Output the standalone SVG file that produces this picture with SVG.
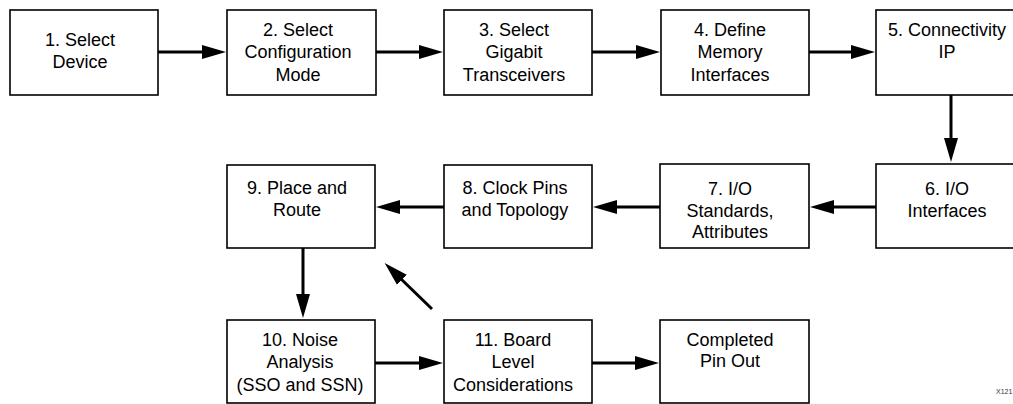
<svg xmlns="http://www.w3.org/2000/svg" width="1013" height="404" viewBox="0 0 1013 404">
<style>
.box{fill:#fff;stroke:#000;stroke-width:1.6}
.t{font-family:"Liberation Sans",Arial,Helvetica,sans-serif;font-size:18px;fill:#000;text-anchor:middle}
.c{fill:none;stroke:#000;stroke-width:3}
.lbl{font-family:"Liberation Sans",Arial,sans-serif;font-size:7px;fill:#333}
</style>
<defs>
<marker id="ah" markerUnits="userSpaceOnUse" markerWidth="25" markerHeight="16" refX="4" refY="8" orient="auto">
<path d="M0,1 L24,8 L0,15 z" fill="#000"/>
</marker>
</defs>
<rect width="1013" height="404" fill="#fff"/>
<g id="connectors">
<line class="c" x1="158" y1="52" x2="206" y2="52" marker-end="url(#ah)"/>
<line class="c" x1="376" y1="52" x2="423" y2="52" marker-end="url(#ah)"/>
<line class="c" x1="592" y1="52" x2="640" y2="52" marker-end="url(#ah)"/>
<line class="c" x1="809" y1="52" x2="855" y2="52" marker-end="url(#ah)"/>
<line class="c" x1="951" y1="95" x2="951" y2="142" marker-end="url(#ah)"/>
<line class="c" x1="876" y1="207" x2="830" y2="207" marker-end="url(#ah)"/>
<line class="c" x1="660" y1="207" x2="613" y2="207" marker-end="url(#ah)"/>
<line class="c" x1="444" y1="207" x2="396" y2="207" marker-end="url(#ah)"/>
<line class="c" x1="303" y1="248" x2="303" y2="298" marker-end="url(#ah)"/>
<line class="c" x1="375" y1="363" x2="423" y2="363" marker-end="url(#ah)"/>
<line class="c" x1="592" y1="363" x2="639" y2="363" marker-end="url(#ah)"/>
<line class="c" x1="432" y1="309" x2="399" y2="277" marker-end="url(#ah)"/>
</g>
<g id="n1"><rect class="box" x="10" y="10" width="148" height="85"/>
<text class="t" x="80" y="46">1. Select</text><text class="t" x="80" y="68">Device</text></g>
<g id="n2"><rect class="box" x="227" y="10" width="149" height="85"/>
<text class="t" x="298" y="36">2. Select</text><text class="t" x="298" y="58">Configuration</text><text class="t" x="298" y="81">Mode</text></g>
<g id="n3"><rect class="box" x="444" y="10" width="148" height="85"/>
<text class="t" x="514" y="36">3. Select</text><text class="t" x="514" y="58">Gigabit</text><text class="t" x="514" y="81">Transceivers</text></g>
<g id="n4"><rect class="box" x="661" y="10" width="148" height="85"/>
<text class="t" x="730" y="36">4. Define</text><text class="t" x="730" y="58">Memory</text><text class="t" x="730" y="81">Interfaces</text></g>
<g id="n5"><rect class="box" x="876" y="10" width="148" height="85"/>
<text class="t" x="947" y="36">5. Connectivity</text><text class="t" x="947" y="58">IP</text></g>
<g id="n6"><rect class="box" x="876" y="164" width="148" height="84"/>
<text class="t" x="947" y="195">6. I/O</text><text class="t" x="947" y="217">Interfaces</text></g>
<g id="n7"><rect class="box" x="660" y="164" width="149" height="84"/>
<text class="t" x="730" y="195">7. I/O</text><text class="t" x="730" y="217">Standards,</text><text class="t" x="730" y="238">Attributes</text></g>
<g id="n8"><rect class="box" x="444" y="165" width="148" height="83"/>
<text class="t" x="515" y="194">8. Clock Pins</text><text class="t" x="515" y="216">and Topology</text></g>
<g id="n9"><rect class="box" x="227" y="165" width="148" height="83"/>
<text class="t" x="297" y="194">9. Place and</text><text class="t" x="297" y="216">Route</text></g>
<g id="n10"><rect class="box" x="227" y="320" width="148" height="83"/>
<text class="t" x="300" y="346">10. Noise</text><text class="t" x="300" y="368">Analysis</text><text class="t" x="300" y="391">(SSO and SSN)</text></g>
<g id="n11"><rect class="box" x="444" y="320" width="148" height="83"/>
<text class="t" x="513" y="346">11. Board</text><text class="t" x="513" y="368">Level</text><text class="t" x="513" y="391">Considerations</text></g>
<g id="n12"><rect class="box" x="660" y="320" width="149" height="83"/>
<text class="t" x="730" y="346">Completed</text><text class="t" x="730" y="367">Pin Out</text></g>
<text class="lbl" x="996" y="394">X121</text>
</svg>
